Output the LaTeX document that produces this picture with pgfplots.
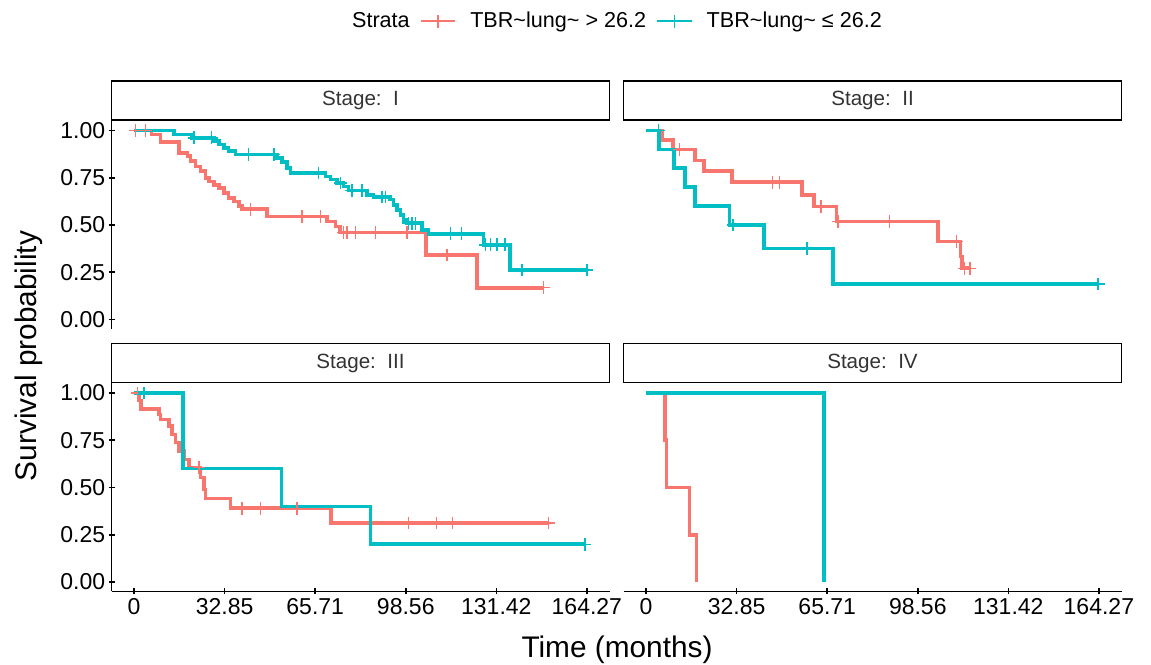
\documentclass[border=0pt]{standalone}
\usepackage{fontspec}
\setmainfont{Liberation Sans}
\usepackage{pgfplots}
\pgfplotsset{compat=1.18}
\definecolor{kmred}{HTML}{F8766D}
\definecolor{kmteal}{HTML}{00BFC4}
\pgfplotsset{
  km/.style={scale only axis, width=249pt, height=104pt,
    xmin=-8.2135, xmax=172.4835, ymin=-0.05, ymax=1.05,
    xtick={0,32.85,65.71,98.56,131.42,164.27},
    xticklabels={0,32.85,65.71,98.56,131.42,164.27},
    ytick={0,0.25,0.5,0.75,1},
    yticklabels={0.00,0.25,0.50,0.75,1.00},
    tick align=outside, major tick length=3pt,
    tick style={black, line width=0.8pt},
    ticklabel style={font=\fontsize{11.5}{13}\selectfont, black},
    yticklabel style={inner sep=1.5pt},
    xticklabel style={inner sep=2pt},
    /pgf/number format/assume math mode=true,
    every axis title shift=0pt,
    title style={draw=black, line width=0.8pt, minimum width=249pt, minimum height=19.5pt,
      inner sep=0pt, at={(0.5,1)}, anchor=south, yshift=0pt,
      font=\fontsize{10.3}{12}\selectfont, text=black!80},
    clip=true,
  },
  noarrow/.style={axis line style={-, line width=0.8pt, black},
    x axis line style={-}, y axis line style={-}},
  rline/.style={const plot, color=kmred, line width=1.8pt, mark=none, forget plot},
  tline/.style={const plot, color=kmteal, line width=1.8pt, mark=none, forget plot},
  rcens/.style={only marks, mark=+, color=kmred, mark size=3.2pt, mark options={line width=0.7pt}, forget plot},
  tcens/.style={only marks, mark=+, color=kmteal, mark size=3.2pt, mark options={line width=0.7pt}, forget plot},
}
\begin{document}
\begin{tikzpicture}
\useasboundingbox (0,0) rectangle (575.5pt,332pt);

% ---------------- Stage I ----------------
\begin{axis}[km, at={(55.75pt,167.5pt)}, anchor=south west,
  axis y line=left, axis x line=none, xtick=\empty, noarrow,
  title={Stage:\ \ I},
  legend style={at={(1.005,1.48)}, anchor=center, draw=none, fill=none,
    legend columns=-1, font=\fontsize{10.8}{12}\selectfont,
    /tikz/every odd column/.append style={column sep=5pt},
    /tikz/every even column/.append style={column sep=3pt}},
  ]
\addlegendimage{empty legend}
\addlegendentry{Strata}
\addlegendimage{color=kmred, line width=1.2pt, mark=+, mark size=3.2pt, mark options={line width=0.7pt}, mark repeat=2, mark phase=2}
\addlegendentry{TBR\textasciitilde lung\textasciitilde\ > 26.2}
\addlegendimage{color=kmteal, line width=1.2pt, mark=+, mark size=3.2pt, mark options={line width=0.7pt}, mark repeat=2, mark phase=2}
\addlegendentry{TBR\textasciitilde lung\textasciitilde\ ≤ 26.2}
\addplot[rline] coordinates {
(0,1) (6.3,0.978) (9.6,0.940) (16.2,0.882) (19.3,0.864) (20.5,0.837) (22.3,0.810)
(24.1,0.784) (25.9,0.749) (27.1,0.731) (28.9,0.713) (30.7,0.696) (32.5,0.669)
(34.3,0.643) (36.2,0.625) (38.0,0.602) (39.2,0.584) (48.3,0.545) (70.0,0.518)
(73.0,0.492) (74.8,0.460) (105.8,0.341) (124.3,0.168) (148.5,0.168)};
\addplot[rcens] coordinates {
(0.5,1) (4.2,1) (42.2,0.584) (60.9,0.545) (67.6,0.545) (76.0,0.460) (77.2,0.460)
(80.3,0.460) (87.5,0.460) (99.0,0.460) (113.5,0.341) (148.5,0.168)};
\addplot[tline] coordinates {
(0,1) (14.4,0.979) (21.1,0.961) (28.9,0.943) (30.7,0.926) (32.5,0.908) (34.3,0.890)
(36.8,0.872) (51.9,0.855) (53.7,0.832) (55.5,0.802) (56.7,0.775) (69.4,0.757)
(71.2,0.740) (73.6,0.722) (76.0,0.704) (77.8,0.683) (84.5,0.660) (86.9,0.648)
(92.9,0.634) (94.1,0.607) (95.4,0.580) (96.6,0.554) (97.8,0.527) (99.0,0.510)
(104.4,0.474) (106.8,0.453) (126.7,0.395) (136.4,0.262) (164.3,0.262)};
\addplot[tcens] coordinates {
(21.7,0.961) (28.1,0.961) (41.6,0.872) (50.7,0.872) (67.0,0.775) (74.8,0.722)
(79.0,0.683) (82.7,0.683) (89.9,0.648) (91.1,0.648) (99.6,0.510) (100.8,0.510)
(102.0,0.510) (114.7,0.453) (118.7,0.453) (127.4,0.395) (129.2,0.395) (131.6,0.395)
(134.6,0.395) (140.7,0.262) (164.3,0.262)};
\end{axis}

% ---------------- Stage II ----------------
\begin{axis}[km, at={(311.75pt,167.5pt)}, anchor=south west,
  axis lines=none, xtick=\empty, ytick=\empty,
  title={Stage:\ \ II}]
\addplot[rline] coordinates {
(0,1) (5.9,0.949) (9.7,0.899) (17.8,0.842) (20.9,0.784) (31.2,0.726) (56.5,0.660)
(60.9,0.598) (69.0,0.518) (105.8,0.412) (114.0,0.333) (114.6,0.271) (118.0,0.271)};
\addplot[rcens] coordinates {
(12.2,0.899) (45.9,0.726) (48.4,0.726) (63.4,0.598) (69.6,0.518) (88.4,0.518)
(112.7,0.412) (115.5,0.271) (117.5,0.271)};
\addplot[tline] coordinates {
(0,1) (4.7,0.9) (10.0,0.8) (14.0,0.7) (17.8,0.6) (30.3,0.5) (42.7,0.375)
(67.8,0.1875) (164.0,0.1875)};
\addplot[tcens] coordinates {
(4.5,1) (31.5,0.5) (58.4,0.375) (164.0,0.1875)};
\end{axis}

% ---------------- Stage III ----------------
\begin{axis}[km, at={(55.75pt,36.25pt)}, anchor=south west,
  axis lines=left, noarrow,
  title={Stage:\ \ III}]
\addplot[rline] coordinates {
(0,1) (1.7,0.96) (2.4,0.915) (9.0,0.887) (9.6,0.860) (12.6,0.825) (13.8,0.781)
(15.0,0.737) (16.2,0.693) (18.0,0.649) (19.9,0.605) (24.1,0.552) (25.3,0.490)
(25.9,0.441) (35.0,0.390) (71.5,0.312) (150.3,0.312)};
\addplot[rcens] coordinates {
(1.2,1) (23.5,0.605) (39.2,0.390) (45.8,0.390) (59.1,0.390) (99.6,0.312)
(109.6,0.312) (115.5,0.312) (150.3,0.312)};
\addplot[tline] coordinates {
(0,1) (17.8,0.6) (53.4,0.4) (85.7,0.2) (163.6,0.2)};
\addplot[tcens] coordinates {
(3.6,1) (163.6,0.2)};
\end{axis}

% ---------------- Stage IV ----------------
\begin{axis}[km, at={(311.75pt,36.25pt)}, anchor=south west,
  axis x line=bottom, axis y line=none, ytick=\empty, noarrow,
  title={Stage:\ \ IV}]
\addplot[rline] coordinates {
(0,1) (6.9,0.75) (7.4,0.5) (15.7,0.25) (18.2,0)};
\addplot[tline] coordinates {
(0,1) (64.6,0)};
\end{axis}

% axis titles
\node[font=\fontsize{14.9}{16}\selectfont, rotate=90] at (14.5pt,154pt) {Survival probability};
\node[font=\fontsize{14.9}{16}\selectfont] at (308.5pt,7pt) {Time (months)};
\end{tikzpicture}
\end{document}
